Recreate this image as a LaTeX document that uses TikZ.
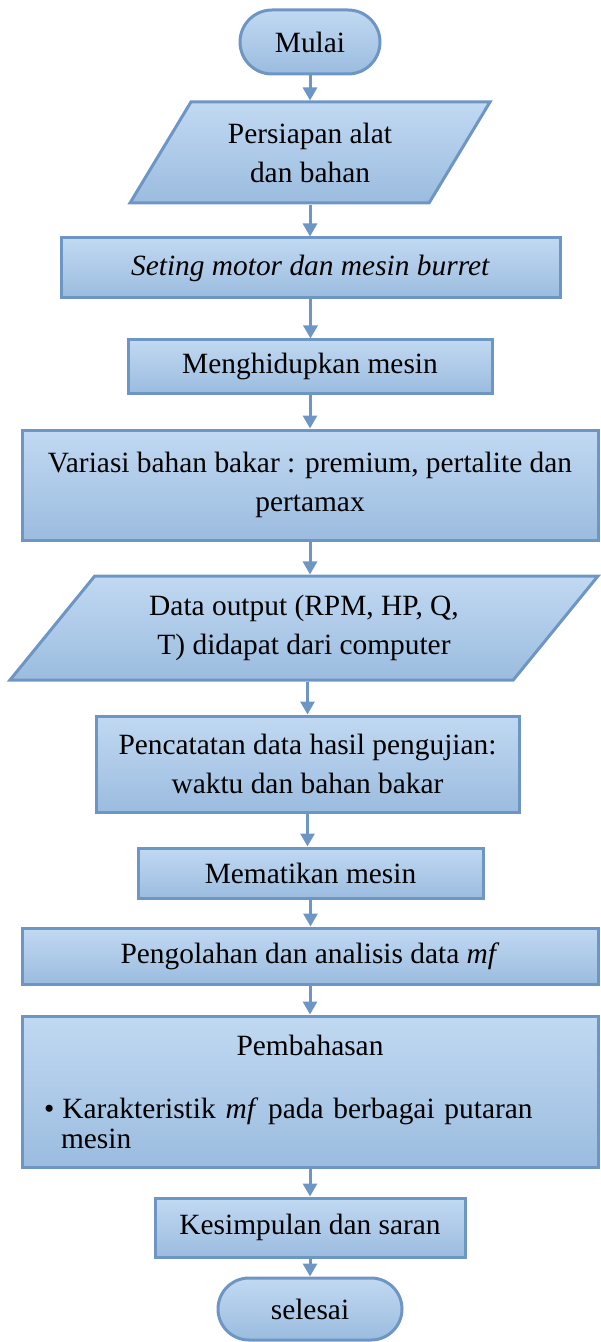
\documentclass[tikz,border=0pt]{standalone}
\usepackage{fontspec}
\setmainfont{Liberation Serif}
\usetikzlibrary{arrows.meta,shapes.geometric,shapes.misc}
\definecolor{garis}{RGB}{110,150,197}
\definecolor{atas}{RGB}{193,217,242}
\definecolor{bawah}{RGB}{155,188,223}

\begin{document}
\begin{tikzpicture}[x=.5pt,y=-.5pt,>={Triangle[width=7pt,length=6.5pt]},
  kotak/.style={draw=garis,line width=1.5pt,top color=atas,bottom color=bawah,
    font=\fontsize{14.7}{19.5}\selectfont,align=center,inner sep=2pt},
  proses/.style={kotak,rectangle},
  terminal/.style={kotak,rounded rectangle},
  io/.style={kotak,trapezium,trapezium stretches body=true},
  panah/.style={->,draw=garis,line width=1.5pt}]
\useasboundingbox (0,0) rectangle (600,1342);
\node[terminal,minimum width=74pt,minimum height=32pt] (mulai) at (310,42) {Mulai};
\node[io,trapezium left angle=48,trapezium right angle=132,minimum width=180pt,minimum height=50.5pt] (alat) at (310,152.5) {Persiapan alat\\dan bahan};
\node[proses,minimum width=249.5pt,minimum height=30pt] (seting) at (310.5,268) {\textit{Seting motor dan mesin burret}};
\node[proses,minimum width=182pt,minimum height=26.5pt] (hidup) at (310,366.5) {Menghidupkan mesin};
\node[proses,minimum width=288pt,minimum height=55pt] (variasi) at (310,485) {Variasi bahan bakar : premium, pertalite dan\\pertamax};
\node[io,trapezium left angle=41,trapezium right angle=139,minimum width=294pt,minimum height=52pt] (data) at (304,628) {Data output (RPM, HP, Q,\\T) didapat dari computer};
\node[proses,minimum width=211.5pt,minimum height=48pt] (catat) at (307.5,764) {Pencatatan data hasil pengujian:\\waktu dan bahan bakar};
\node[proses,minimum width=172.5pt,minimum height=25pt] (mati) at (310.5,873) {Mematikan mesin};
\node[proses,minimum width=288pt,minimum height=28pt] (olah) at (310,956) {Pengolahan dan analisis data \textit{mf}};
\node[proses,minimum width=288pt,minimum height=75.5pt,text width=266pt] (bahas) at (310,1091.5) {Pembahasan\\[12pt]
  \makebox[266pt][l]{\textbullet\hspace{4pt}Karakteristik \textit{mf} pada berbagai putaran}\\[-4.5pt]
  \makebox[266pt][l]{\hspace{8.5pt}mesin}};
\node[proses,minimum width=155pt,minimum height=29.5pt] (simpul) at (310,1227.5) {Kesimpulan dan saran};
\node[terminal,minimum width=96pt,minimum height=31pt] (selesai) at (310,1309) {selesai};
\foreach \a/\b in {mulai/alat,alat/seting,seting/hidup,hidup/variasi,variasi/data,catat/mati,mati/olah,olah/bahas,bahas/simpul,simpul/selesai}
  \draw[panah] (\a.south) -- (\a.south |- \b.north);
\draw[panah] (catat.north |- data.south) -- (catat.north);
\end{tikzpicture}
\end{document}
